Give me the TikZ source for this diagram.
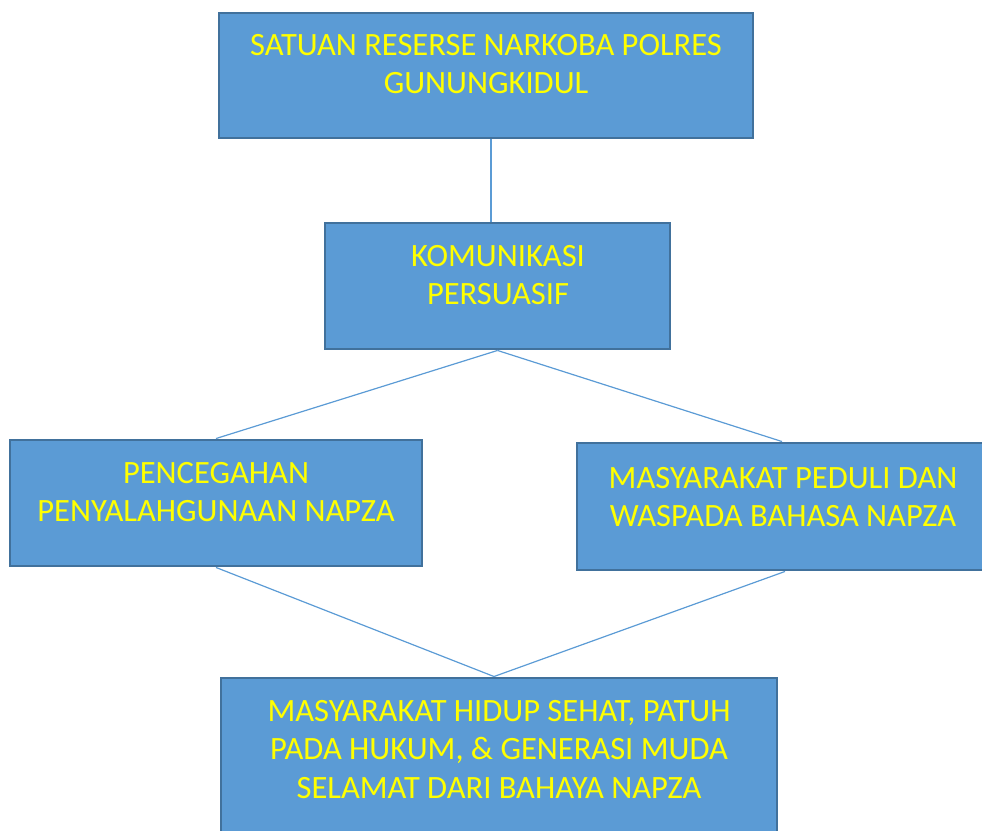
\documentclass[tikz,border=0pt]{standalone}
\usepackage{fontspec}
\setmainfont{Carlito}
\definecolor{boxfill}{HTML}{5B9BD5}
\definecolor{boxline}{HTML}{41719C}
\definecolor{txt}{HTML}{FFFF00}
\begin{document}
\begin{tikzpicture}[x=0.75pt,y=-0.75pt,
  box/.style={draw=boxline,fill=boxfill,line width=2.2pt,rectangle,inner sep=0pt},
  lbl/.style={text=txt,align=center,inner sep=0pt,font=\fontsize{24.4}{29}\selectfont},
  conn/.style={draw=boxfill,line width=0.9pt}]
\useasboundingbox (0,0) rectangle (982,831);
\node[box,minimum width=534*0.75pt,minimum height=125*0.75pt] (b1) at (486,75.5) {};
\node[box,minimum width=345*0.75pt,minimum height=126*0.75pt] (b2) at (497.5,286) {};
\node[box,minimum width=412*0.75pt,minimum height=126*0.75pt] (b3) at (216,503) {};
\node[box,minimum width=406*0.75pt,minimum height=127*0.75pt] (b4) at (780,506.5) {};
\node[box,minimum width=556*0.75pt,minimum height=170*0.75pt] (b5) at (499,763) {};
\node[lbl] (t1) at (486,64) {SATUAN RESERSE NARKOBA POLRES\\GUNUNGKIDUL};
\node[lbl] (t2) at (498,275) {KOMUNIKASI\\PERSUASIF};
\node[lbl] (t3) at (216,492) {PENCEGAHAN\\PENYALAHGUNAAN NAPZA};
\node[lbl] (t4) at (783,497) {MASYARAKAT PEDULI DAN\\WASPADA BAHASA NAPZA};
\node[lbl] (t5) at (499,749.5) {MASYARAKAT HIDUP SEHAT, PATUH\\PADA HUKUM, \& GENERASI MUDA\\SELAMAT DARI BAHAYA NAPZA};
\draw[conn] ([xshift=3.75pt]b1.south) -- ([xshift=-4.875pt]b2.north);
\draw[conn] (b2.south) -- (b3.north);
\draw[conn] (b2.south) -- ([xshift=1.5pt]b4.north);
\draw[conn] (b3.south) -- ([xshift=-3.75pt]b5.north);
\draw[conn] ([xshift=3.75pt]b4.south) -- ([xshift=-3.75pt]b5.north);
\end{tikzpicture}
\end{document}
